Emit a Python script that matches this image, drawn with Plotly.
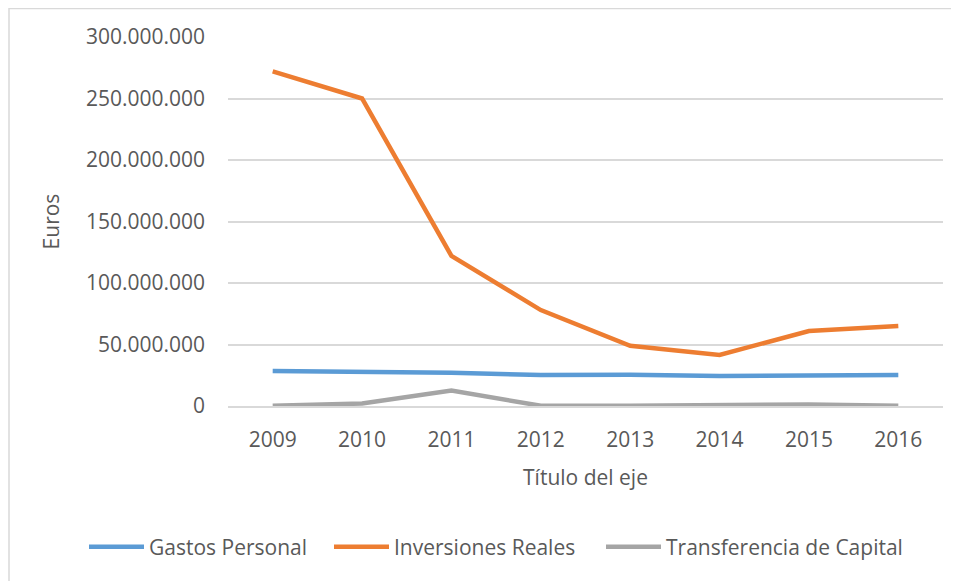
import plotly.graph_objects as go

years = ["2009", "2010", "2011", "2012", "2013", "2014", "2015", "2016"]
gastos_personal = [28500000, 28000000, 27000000, 25200000, 25500000, 24300000, 24700000, 25200000]
inversiones_reales = [272000000, 250000000, 122000000, 78000000, 49000000, 41500000, 61000000, 65000000]
transferencia_capital = [300000, 2000000, 12500000, 200000, 200000, 300000, 1200000, 200000]

FONT = "Open Sans"
TXT = "#595959"
GRID = "#d9d9d9"

fig = go.Figure()

series = [
    ("Gastos Personal", gastos_personal, "#5B9BD5", 175),
    ("Inversiones Reales", inversiones_reales, "#ED7D31", 202),
    ("Transferencia de Capital", transferencia_capital, "#A5A5A5", 250),
]
for name, vals, color, lw in series:
    fig.add_trace(go.Scatter(
        x=years,
        y=vals,
        mode="lines",
        name=name,
        line=dict(color=color, width=4.5),
        legendwidth=lw,
    ))

# page body has an 8px margin, so the figure is sized to the visible window
W, H = 951, 573
L, T, R, B = 220, 29, 16, 175
pw, ph = W - L - R, H - T - B

# chart border (Excel style frame)
fig.add_shape(
    type="rect", xref="paper", yref="paper",
    x0=(1 - L) / pw, x1=1.5, y0=-1, y1=(ph + T - 0.5) / ph,
    line=dict(color=GRID, width=1.5), layer="below",
)

fig.update_layout(
    width=W,
    height=H,
    margin=dict(l=L, r=R, t=T, b=B),
    paper_bgcolor="white",
    plot_bgcolor="white",
    separators=",.",
    font=dict(family=FONT, size=21, color=TXT),
    showlegend=True,
    legend=dict(
        orientation="h",
        x=(76 - L) / pw, xanchor="left",
        y=(ph - (547 - 8 - T)) / ph, yanchor="middle",
        font=dict(size=21, color=TXT),
        itemwidth=55,
        traceorder="normal",
    ),
    xaxis=dict(
        type="category",
        range=[-0.5, 7.5],
        showgrid=False,
        showline=True,
        linecolor=GRID,
        linewidth=1.5,
        ticks="",
        ticklabelstandoff=14,
        tickfont=dict(size=21, color=TXT),
        title=dict(text="Título del eje", font=dict(size=21, color=TXT), standoff=18),
        automargin=False,
    ),
    yaxis=dict(
        range=[0, 300000000],
        dtick=50000000,
        tickformat=",d",
        showgrid=True,
        gridcolor=GRID,
        gridwidth=1.5,
        zeroline=False,
        showline=False,
        ticks="",
        ticklabelstandoff=22,
        tickfont=dict(size=21, color=TXT),
        title=dict(text="Euros", font=dict(size=21, color=TXT), standoff=20),
        automargin=False,
    ),
)

fig.write_html("out.html")
